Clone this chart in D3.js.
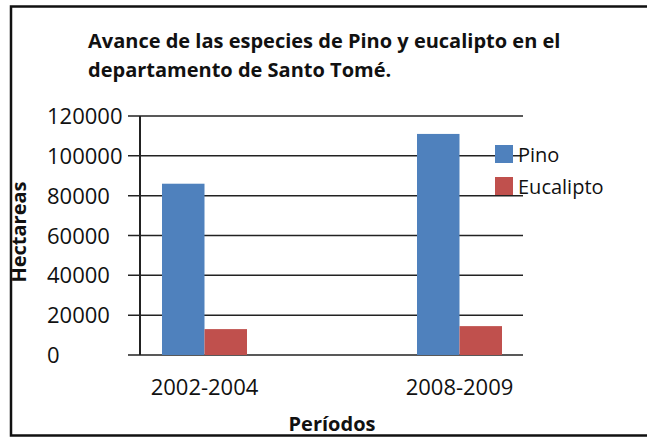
<!DOCTYPE html>
<html>
<head>
<meta charset="utf-8">
<script src="https://cdn.jsdelivr.net/npm/d3@7"></script>
<style>
  body { margin: 0; background: #fff; }
  text { font-family: "Open Sans", sans-serif; fill: #111; }
</style>
</head>
<body>
<div class="chart"></div>
<script>
const categories = ["2002-2004", "2008-2009"];
const seriesNames = ["Pino", "Eucalipto"];
const pino = [86000, 111000];
const eucalipto = [13000, 14500];
const yTicks = [0, 20000, 40000, 60000, 80000, 100000, 120000];
const colors = ["#4F81BD", "#C0504D"];

const width = 647, height = 437;
const svg = d3.select(".chart").append("svg")
  .attr("width", width)
  .attr("height", height);

const plotLeft = 140, plotRight = 523;

const y = d3.scaleLinear().domain([0, 120000]).range([355, 116]);
// category bands (bars sit a bit off the gridline area, like the original)
const x = d3.scaleBand().domain(categories).range([77, 587]);
const xInner = d3.scaleBand().domain(seriesNames).range([-42.5, 42.5]);

const rows = categories.map((c, i) => ({ cat: c, values: [pino[i], eucalipto[i]] }));

// gridlines + ticks
const grid = svg.append("g");
grid.selectAll("line")
  .data(yTicks)
  .join("line")
  .attr("x1", plotLeft - 12)
  .attr("x2", plotRight)
  .attr("y1", d => y(d))
  .attr("y2", d => y(d))
  .attr("stroke", "#222")
  .attr("stroke-width", 1.5);

// y tick labels (left aligned as in the original)
svg.append("g").selectAll("text")
  .data(yTicks)
  .join("text")
  .attr("x", 47)
  .attr("y", d => y(d) + 8)
  .style("font-size", "22px")
  .text(d => d);

// bars
const groups = svg.append("g").selectAll("g")
  .data(rows)
  .join("g")
  .attr("transform", d => `translate(${x(d.cat) + x.bandwidth() / 2},0)`);

groups.selectAll("rect")
  .data(d => d.values.map((v, i) => ({ name: seriesNames[i], v: v, i: i })))
  .join("rect")
  .attr("x", d => xInner(d.name))
  .attr("width", xInner.bandwidth())
  .attr("y", d => y(d.v))
  .attr("height", d => y(0) - y(d.v))
  .attr("fill", d => colors[d.i]);

// y axis line
svg.append("line")
  .attr("x1", plotLeft).attr("x2", plotLeft)
  .attr("y1", y(120000)).attr("y2", y(0))
  .attr("stroke", "#222")
  .attr("stroke-width", 2);

// x labels
svg.append("g").selectAll("text")
  .data(categories)
  .join("text")
  .attr("x", d => x(d) + x.bandwidth() / 2)
  .attr("y", 395)
  .attr("text-anchor", "middle")
  .style("font-size", "22px")
  .text(d => d);

// legend
const legend = svg.append("g").selectAll("g")
  .data(seriesNames)
  .join("g")
  .attr("transform", (d, i) => `translate(495,${145 + i * 32})`);
legend.append("rect")
  .attr("width", 18)
  .attr("height", 18)
  .attr("fill", (d, i) => colors[i]);
legend.append("text")
  .attr("x", 23)
  .attr("y", 17)
  .style("font-size", "20px")
  .text(d => d);

// title
const title = svg.append("text")
  .style("font-size", "20px")
  .style("font-weight", "bold");
title.append("tspan").attr("x", 88).attr("y", 48)
  .text("Avance de las especies de Pino y eucalipto en el");
title.append("tspan").attr("x", 88).attr("y", 77)
  .text("departamento de Santo Tomé.");

// axis titles
svg.append("text")
  .attr("transform", "translate(26,232) rotate(-90)")
  .attr("text-anchor", "middle")
  .style("font-size", "20px")
  .style("font-weight", "bold")
  .text("Hectareas");

svg.append("text")
  .attr("x", 332)
  .attr("y", 431)
  .attr("text-anchor", "middle")
  .style("font-size", "20px")
  .style("font-weight", "bold")
  .text("Períodos");

// frame
svg.append("path")
  .attr("d", "M660,6.5 H11 V435.5 H660")
  .attr("fill", "none")
  .attr("stroke", "#111")
  .attr("stroke-width", 2.5);
</script>
</body>
</html>
